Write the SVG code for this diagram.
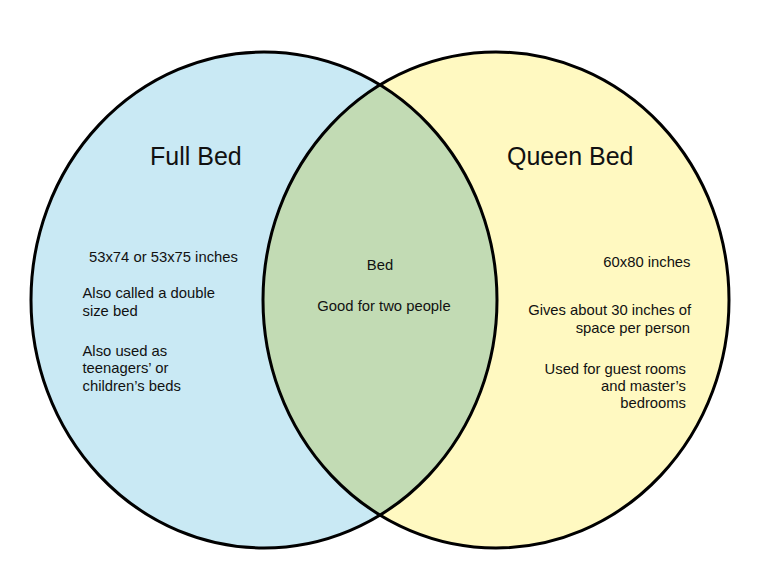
<svg xmlns="http://www.w3.org/2000/svg" width="768" height="576" viewBox="0 0 768 576">
<style>
.t{font-family:"Liberation Sans",Arial,sans-serif;fill:#111}
.h{font-size:25px}
.s{font-size:14.8px}
.outline{fill:none;stroke:#000;stroke-width:3}
</style>
<defs>
<clipPath id="clipLeft"><ellipse cx="264" cy="300" rx="233" ry="248"/></clipPath>
</defs>
<rect width="768" height="576" fill="#fff"/>
<g id="full-bed">
<ellipse cx="264" cy="300" rx="233" ry="248" fill="#c9e9f4"/>
</g>
<g id="queen-bed">
<ellipse cx="496" cy="300" rx="233" ry="248" fill="#fff9c1"/>
</g>
<g id="overlap">
<ellipse cx="496" cy="300" rx="233" ry="248" fill="#c2dbb4" clip-path="url(#clipLeft)"/>
</g>
<g id="outlines">
<ellipse class="outline" cx="264" cy="300" rx="233" ry="248"/>
<ellipse class="outline" cx="496" cy="300" rx="233" ry="248"/>
</g>
<g id="full-bed-text">
<text class="t h" x="150" y="165">Full Bed</text>
<text class="t s" x="89" y="262">53x74 or 53x75 inches</text>
<text class="t s" x="82.5" y="298">Also called a double</text>
<text class="t s" x="82.5" y="315.5">size bed</text>
<text class="t s" x="82.5" y="356">Also used as</text>
<text class="t s" x="82.5" y="373">teenagers’ or</text>
<text class="t s" x="82.5" y="390.5">children’s beds</text>
</g>
<g id="overlap-text">
<text class="t s" x="380" y="269.5" text-anchor="middle">Bed</text>
<text class="t s" x="384" y="311" text-anchor="middle">Good for two people</text>
</g>
<g id="queen-bed-text">
<text class="t h" x="507" y="165">Queen Bed</text>
<text class="t s" x="690.5" y="267" text-anchor="end">60x80 inches</text>
<text class="t s" x="691" y="315" text-anchor="end">Gives about 30 inches of</text>
<text class="t s" x="690" y="333" text-anchor="end">space per person</text>
<text class="t s" x="686" y="373.5" text-anchor="end">Used for guest rooms</text>
<text class="t s" x="686" y="391" text-anchor="end">and master’s</text>
<text class="t s" x="686" y="408" text-anchor="end">bedrooms</text>
</g>
</svg>
